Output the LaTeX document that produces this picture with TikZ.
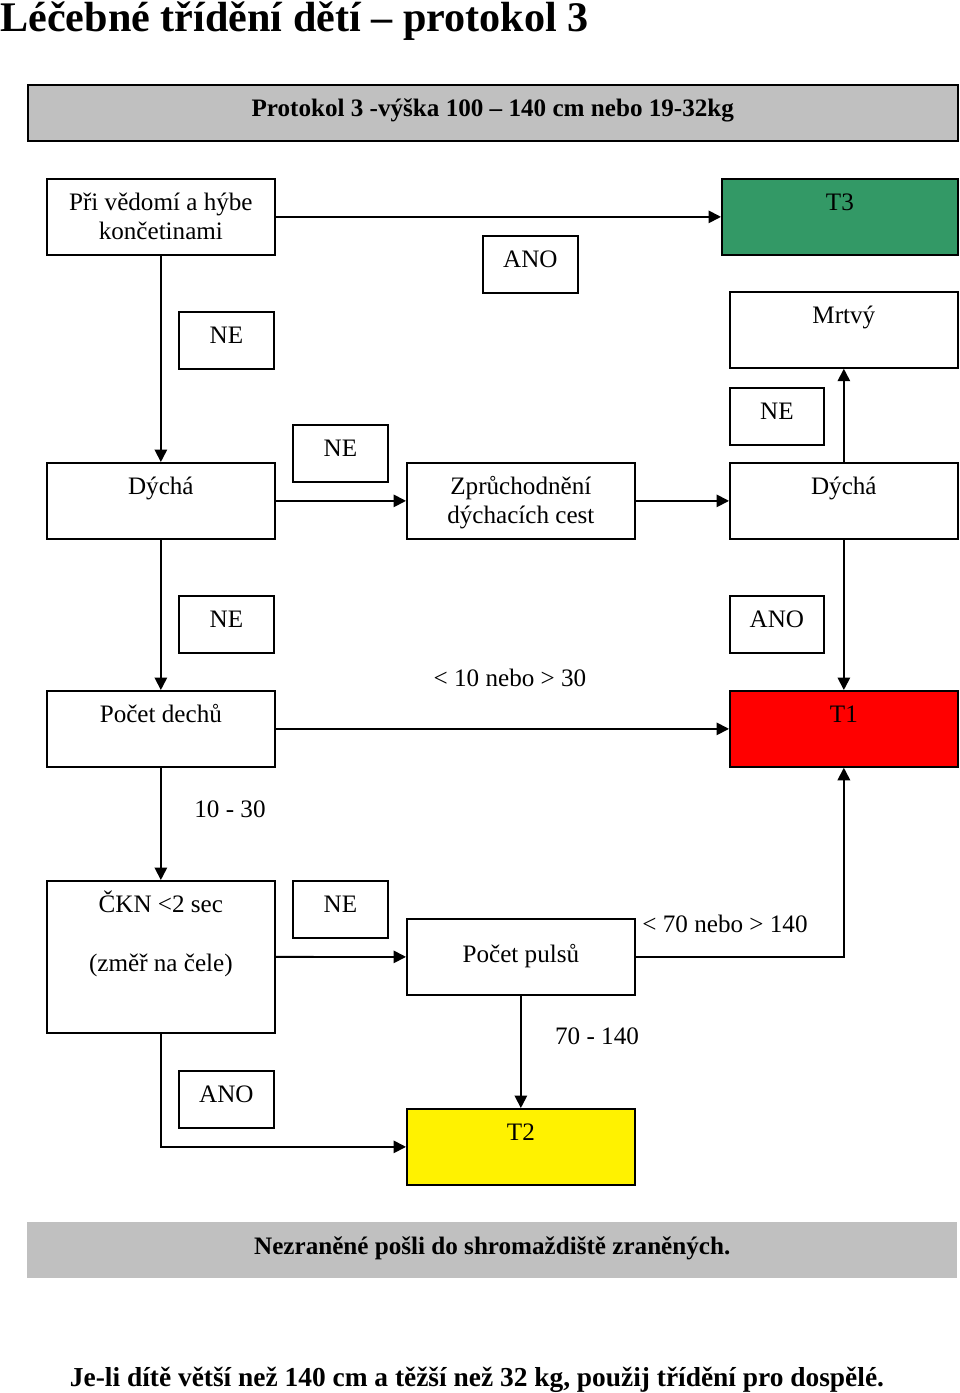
\documentclass[tikz,border=0pt]{standalone}
\usepackage{fontspec}
\setmainfont{Liberation Serif}
\usepackage{tikz}
\usetikzlibrary{arrows.meta, positioning, shapes}
\definecolor{zelena}{RGB}{51,153,102}
\definecolor{seda}{RGB}{192,192,192}
\tikzstyle{ramec} = [rectangle, draw = black, line width = 1pt, anchor = north west, inner sep = 0pt, text height = 0.64cm, text depth = 0.88cm, minimum width = 4.56cm]
\tikzstyle{maly} = [ramec, minimum width = 1.9cm, text depth = 0.5cm]
\tikzstyle{pruh} = [rectangle, anchor = north west, inner sep = 0pt, fill = seda, minimum width = 18.6cm, text height = 0.64cm, text depth = 0.48cm, font = \fontsize{14.3}{16.5}\selectfont\bfseries]
\tikzstyle{sipka} = [line width = 1pt, -{Triangle[length = 0.25cm, width = 0.25cm]}]

\begin{document}
\begin{tikzpicture}[x = 0.02cm, y = -0.02cm, font = \fontsize{14.3}{16.5}\selectfont]

\useasboundingbox (0,0) rectangle (960,1393);

\node (0) [anchor = base west, inner sep = 0pt, font = \fontsize{24}{28}\selectfont\bfseries] at (0,31) {Léčebné třídění dětí – protokol 3};
\node (1) [pruh, draw = black, line width = 1pt] at (27,84) {Protokol 3 -výška 100 – 140 cm nebo 19-32kg};

\node (2) [ramec] at (46,178) {\begin{tabular}[t]{@{}c@{}}Při vědomí a hýbe\\ končetinami\end{tabular}};
\node (3) [ramec, fill = zelena, minimum width = 4.72cm] at (721,178) {T3};
\node (4) [maly] at (482,235) {ANO};
\node (5) [maly] at (178,311) {NE};
\node (6) [ramec] at (729,291) {Mrtvý};
\node (7) [maly, minimum width = 1.88cm] at (729,387) {NE};
\node (8) [maly] at (292,424) {NE};

\node (9) [ramec] at (46,462) {Dýchá};
\node (10) [ramec] at (406,462) {\begin{tabular}[t]{@{}c@{}}Zprůchodnění\\ dýchacích cest\end{tabular}};
\node (11) [ramec] at (729,462) {Dýchá};

\node (12) [maly] at (178,595) {NE};
\node (13) [maly, minimum width = 1.88cm] at (729,595) {ANO};
\node (14) [ramec] at (46,690) {Počet dechů};
\node (15) [ramec, fill = red] at (729,690) {T1};

\node (16) [ramec, text depth = 2.4cm] at (46,880) {\begin{tabular}[t]{@{}c@{}}ČKN <2 sec\\[17pt] (změř na čele)\end{tabular}};
\node (17) [maly] at (292,880) {NE};
\node (18) [ramec, text height = 0.88cm, text depth = 0.64cm] at (406,918) {Počet pulsů};
\node (19) [maly] at (178,1070) {ANO};
\node (20) [ramec, fill = yellow] at (406,1108) {T2};

\node (21) [pruh] at (27,1222) {Nezraněné pošli do shromaždiště zraněných.};
\node (22) [anchor = base, inner sep = 0pt, font = \fontsize{15.6}{18}\selectfont\bfseries] at (477,1386) {Je-li dítě větší než 140 cm a těžší než 32 kg, použij třídění pro dospělé.};

\node (23) at (510,678) {< 10 nebo > 30};
\node (24) at (230,809) {10 - 30};
\node (25) at (725,924) {< 70 nebo > 140};
\node (26) at (597,1036) {70 - 140};

\draw[sipka] (2.east) -- (3.west);
\draw[sipka] (2.south) -- (9.north);
\draw[sipka] (9.east) -- (10.west);
\draw[sipka] (10.east) -- (11.west);
\draw[sipka] (11.north) -- (6.south);

\draw[sipka] (9.south) -- (14.north);
\draw[sipka] (11.south) -- (15.north);
\draw[sipka] (14.east) -- (15.west);

\draw[sipka] (14.south) -- (16.north);
\draw[sipka] (16.east) -- (18.west);
\draw[sipka] (18.east) -| (15.south);
\draw[sipka] (18.south) -- (20.north);
\draw[sipka] (16.south) |- (20.west);

\end{tikzpicture}
\end{document}
